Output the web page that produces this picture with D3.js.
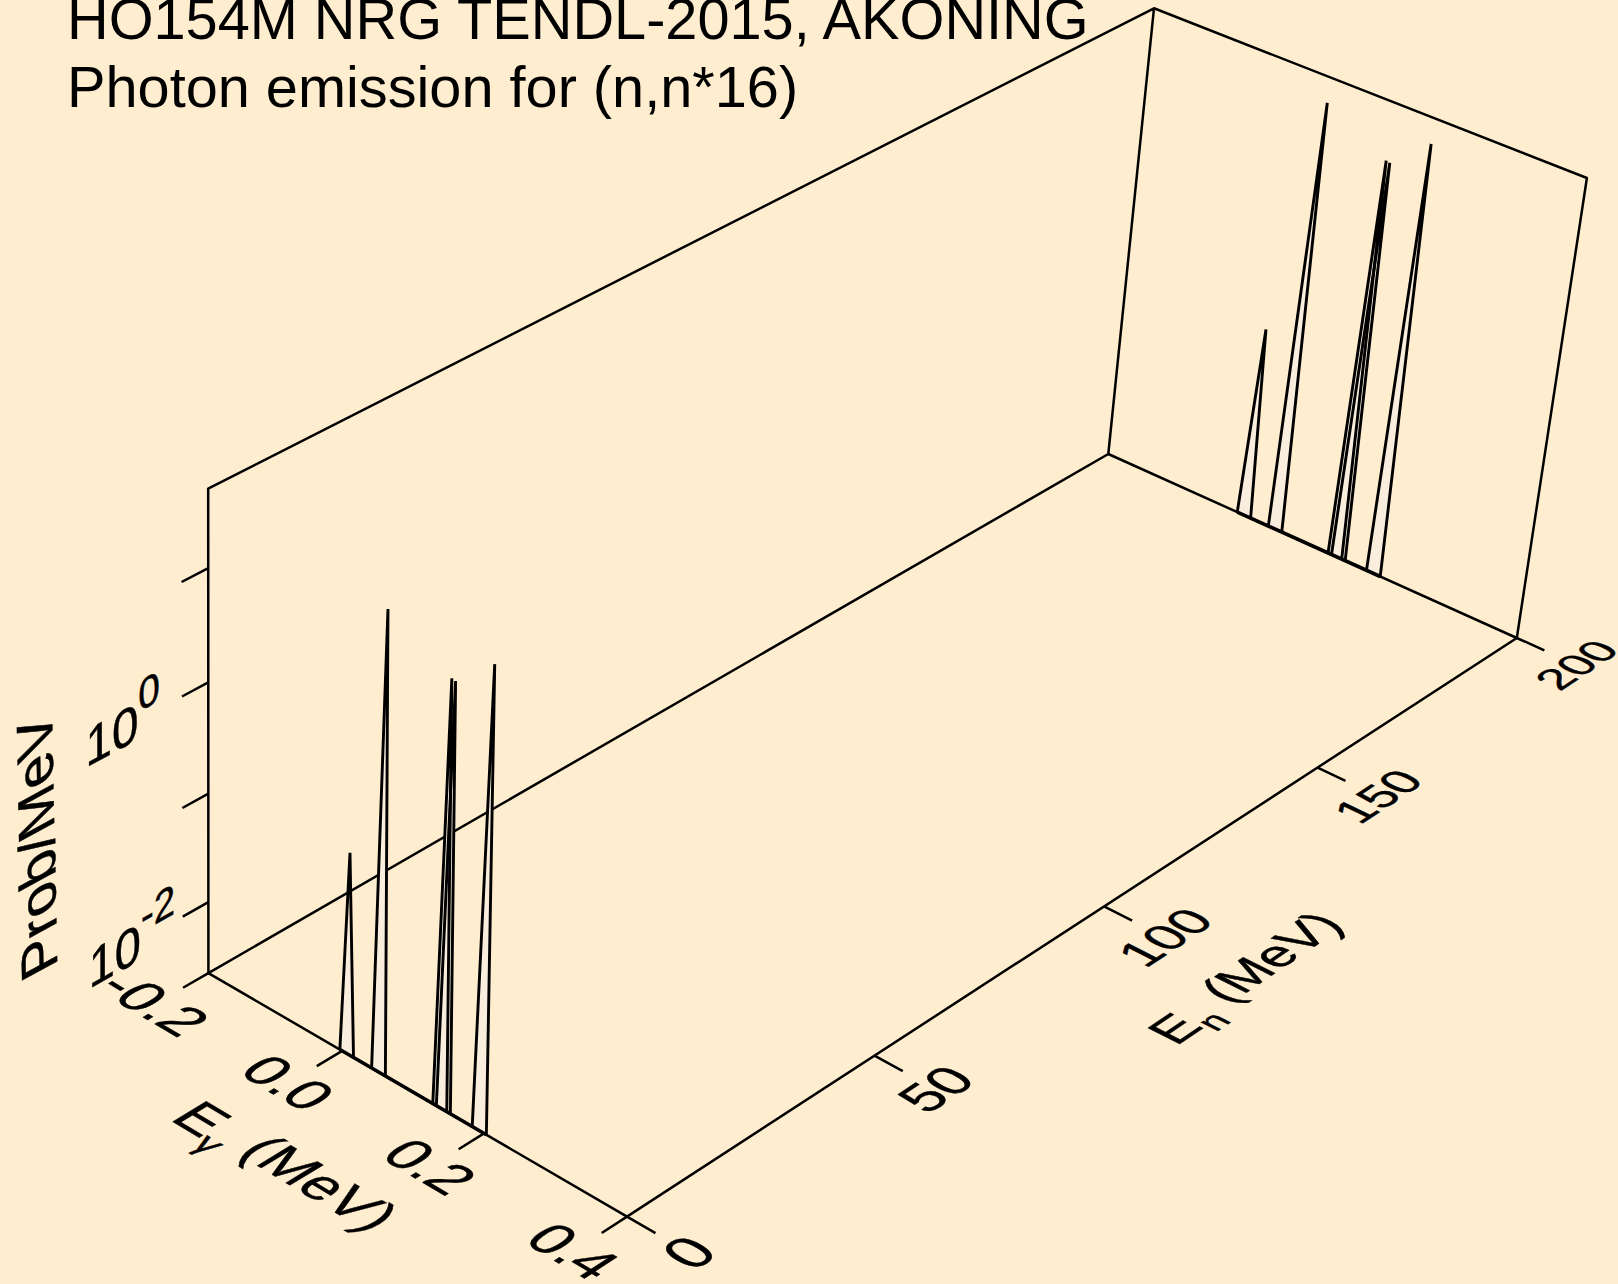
<!DOCTYPE html>
<html><head><meta charset="utf-8">
<script src="https://cdnjs.cloudflare.com/ajax/libs/d3/7.8.5/d3.min.js"></script>
<style>html,body{margin:0;padding:0;background:#FFEDD0;overflow:hidden}text{font-family:"Liberation Sans",Arial,sans-serif;fill:#000}</style>
</head><body><svg id="c" width="1618" height="1284"></svg>
<script>
// ---- data ----
const titleLines = ["HO154M NRG TENDL-2015, AKONING", "Photon emission for (n,n*16)"];
const lineEnergies = [0.0065, 0.052, 0.1385, 0.1435, 0.1935];   // E-gamma (MeV)
const lineProbs    = [0.15, 28, 14, 13.8, 28];                   // Prob/MeV
const lineHalfWidth = 0.0098;
const neutronEnergies = [0, 200];
const eGammaDomain = [-0.196, 0.394];
const eNeutronDomain = [0, 200];
const probDomain = [0.00214, 48];
const eGammaTicks = [-0.2, 0, 0.2, 0.4];
const eGammaTickLabels = ["-0.2", "0.0", "0.2", "0.4"];
const eNeutronTicks = [0, 50, 100, 150, 200];
const probTicks = [0.01, 0.1, 1, 10];
const probLabels = [[0.01, "-2"], [1, "0"]];

// ---- view calibration: where the unit cube's corners land ----
const floorCorners = [[208.4,973.1],[627.0,1216.6],[1516.8,638],[1108.3,454]]; // (0,0),(1,0),(1,1),(0,1)
const topCorners = [[0,0,208.4,489.1],[0,1,1153.7,8.3],[1,1,1587,177.5]];

const [q0,q1,q2,q3] = floorCorners;
const dx1=q1[0]-q2[0], dx2=q3[0]-q2[0], sx=q0[0]-q1[0]+q2[0]-q3[0];
const dy1=q1[1]-q2[1], dy2=q3[1]-q2[1], sy=q0[1]-q1[1]+q2[1]-q3[1];
const den=dx1*dy2-dx2*dy1, g=(sx*dy2-dx2*sy)/den, h=(dx1*sy-sx*dy1)/den;
const a=q1[0]-q0[0]+g*q1[0], b=q3[0]-q0[0]+h*q3[0], c0=q0[0];
const d=q1[1]-q0[1]+g*q1[1], e=q3[1]-q0[1]+h*q3[1], f0=q0[1];
// least-squares for the z column of the camera matrix
const rows=[];
topCorners.forEach(([u,v,X,Y])=>{
  const w=g*u+h*v+1;
  rows.push([1,0,-X, X*w-(a*u+b*v+c0)]);
  rows.push([0,1,-Y, Y*w-(d*u+e*v+f0)]);
});
const M=[0,1,2].map(i=>[0,1,2,3].map(j=>d3.sum(rows,r=>r[i]*r[j])));
for(let i=0;i<3;i++){
  let p=i; for(let k=i+1;k<3;k++) if(Math.abs(M[k][i])>Math.abs(M[p][i])) p=k;
  [M[i],M[p]]=[M[p],M[i]];
  for(let k=0;k<3;k++) if(k!==i){const t=M[k][i]/M[i][i]; for(let j=i;j<4;j++) M[k][j]-=t*M[i][j];}
}
const [C1,C2,C3]=[0,1,2].map(i=>M[i][3]/M[i][i]);
function project(u,v,w){
  const W=g*u+h*v+1+C3*w;
  return [(a*u+b*v+c0+C1*w)/W,(d*u+e*v+f0+C2*w)/W];
}
// ---- scales ----
const xS=d3.scaleLinear().domain(eGammaDomain).range([0,1]).clamp(true);
const yS=d3.scaleLinear().domain(eNeutronDomain).range([0,1]);
const zS=d3.scaleLog().domain(probDomain).range([0,1]);

const svg=d3.select("#c");
svg.append("rect").attr("width",1618).attr("height",1284).attr("fill","#FFEDD0");
const line=d3.line();
const LW=2.5, spikeLW=2.9;

// box
const boxPaths=[
  [[0,0,0],[0,0,1],[0,1,1],[0,1,0],[0,0,0]],
  [[0,1,1],[1,1,1],[1,1,0],[0,1,0]],
  [[0,0,0],[1,0,0],[1,1,0]]
];
svg.append("g").selectAll("path").data(boxPaths).join("path")
  .attr("d",p=>line(p.map(q=>project(...q)))).attr("fill","none").attr("stroke","#000").attr("stroke-width",LW).attr("stroke-linejoin","round");

// spikes
const spikeG=svg.append("g");
neutronEnergies.forEach(en=>{
  const v=yS(en);
  lineEnergies.forEach((E,i)=>{
    const tri=[project(xS(E-lineHalfWidth),v,0),project(xS(E),v,zS(lineProbs[i])),project(xS(E+lineHalfWidth),v,0)];
    spikeG.append("path").attr("d",line(tri)+"Z").attr("fill","#F9EDDD").attr("stroke","none");
  });
  lineEnergies.forEach((E,i)=>{
    const tri=[project(xS(E-lineHalfWidth),v,0),project(xS(E),v,zS(lineProbs[i])),project(xS(E+lineHalfWidth),v,0)];
    spikeG.append("path").attr("d",line(tri)).attr("fill","none").attr("stroke","#000").attr("stroke-width",spikeLW);
  });
  spikeG.append("path")
    .attr("d",line([project(xS(lineEnergies[0]-lineHalfWidth),v,0),project(xS(lineEnergies[lineEnergies.length-1]+lineHalfWidth),v,0)]))
    .attr("stroke","#000").attr("stroke-width",3.6).attr("fill","none");
});

// ticks
const tickLen=0.0245, tickLenX=0.064;
const tickG=svg.append("g").attr("stroke","#000").attr("stroke-width",LW).attr("fill","none");
eGammaTicks.forEach(t=>tickG.append("path").attr("d",line([project(xS(t),0,0),project(xS(t),-tickLen,0)])));
eNeutronTicks.forEach(t=>tickG.append("path").attr("d",line([project(1,yS(t),0),project(1+tickLenX,yS(t),0)])));
probTicks.forEach(t=>tickG.append("path").attr("d",line([project(0,0,zS(t)),project(0,-tickLen,zS(t))])));

// text laid in the box planes
function unit(p,q){const dx=q[0]-p[0],dy=q[1]-p[1],l=Math.hypot(dx,dy);return [dx/l,dy/l];}
function planeText(pt,base,up,size,parts,anchor){
  const t=svg.append("text")
    .attr("transform",`matrix(${base[0]},${base[1]},${-up[0]},${-up[1]},${pt[0]},${pt[1]})`)
    .attr("font-size",size).attr("text-anchor",anchor||"middle").attr("dy","0.36em")
    .style("stroke","#000").style("stroke-width",0.5);
  parts.forEach(p=>{
    const s=t.append("tspan").text(p.t);
    if(p.size) s.attr("font-size",p.size);
    if(p.dy) s.attr("dy",p.dy);
  });
  return t;
}
function floorDirs(u,v){
  return {alongX:unit(project(u-0.05,v,0),project(u+0.05,v,0)), alongY:unit(project(u,v-0.05,0),project(u,v+0.05,0))};
}
function flip(q){return [-q[0],-q[1]];}
function localLen(u,v){const p=project(u,v-0.05,0),q=project(u,v+0.05,0);return Math.hypot(q[0]-p[0],q[1]-p[1]);}
eGammaTicks.forEach((t,i)=>{
  const u=xS(t)-0.001, v=-0.051;
  const D=floorDirs(u,v);
  planeText(project(u,v,0),D.alongX,D.alongY,57,[{t:eGammaTickLabels[i]}]);
});
const enSizeK=55/localLen(1.137,yS(50));
eNeutronTicks.forEach(t=>{
  const u=1.137, v=yS(t);
  const D=floorDirs(u,v);
  planeText(project(u,v,0),D.alongY,flip(D.alongX),enSizeK*localLen(u,v),[{t:String(t)}]);
});
// prob labels on the wall plane
probLabels.forEach(([val,exp])=>{
  const v=-0.113;
  const p=project(0,v,zS(val));
  const base=unit(project(0,v-0.05,zS(val)),project(0,v+0.05,zS(val)));
  planeText(p,base,[0,-1],54,[{t:"10"},{t:exp,size:44,dy:"-0.62em"}],"start");
});
// axis titles
(function(){
  const u=0.496,v=-0.12,D=floorDirs(u,v);
  planeText(project(u,v,0),D.alongX,D.alongY,57,[{t:"E"},{t:"γ",size:38,dy:"0.35em"},{t:" (MeV)",dy:"-0.35em"}]);
  const u2=1.32,v2=0.50,D2=floorDirs(u2,v2);
  planeText(project(u2,v2,0),D2.alongY,flip(D2.alongX),52,[{t:"E"},{t:"n",size:36,dy:"0.35em"},{t:" (MeV)",dy:"-0.35em"}]);
  const v3=-0.1585,w3=0.468;
  const base=unit(project(0,v3,w3-0.05),project(0,v3,w3+0.05));
  const upV=flip(unit(project(0,v3-0.05,w3),project(0,v3+0.05,w3)));
  planeText(project(0,v3,w3),base,upV,58,[{t:"Prob/MeV"}]);
})();

// title
svg.append("g").selectAll("text").data(titleLines).join("text")
  .attr("x",67).attr("y",(t,i)=>[39,107][i]).attr("font-size",57.7).text(t=>t);
</script></body></html>
